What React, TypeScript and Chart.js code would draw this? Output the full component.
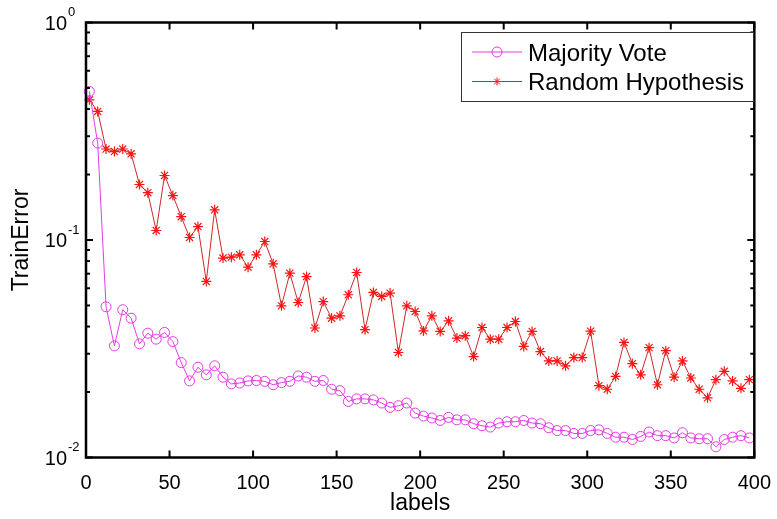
import React, { useEffect, useRef } from 'react';
import { Chart, registerables } from 'chart.js';

Chart.register(...registerables);

const FONT = '"Liberation Sans", Arial, Helvetica, sans-serif';

// x positions (labels) of the sampled points
const xLabels = [
  2, 7, 12, 17, 22, 27, 32, 37, 42, 47,
  52, 57, 62, 67, 72, 77, 82, 87, 92, 97,
  102, 107, 112, 117, 122, 127, 132, 137, 142, 147,
  152, 157, 162, 167, 172, 177, 182, 187, 192, 197,
  202, 207, 212, 217, 222, 227, 232, 237, 242, 247,
  252, 257, 262, 267, 272, 277, 282, 287, 292, 297,
  302, 307, 312, 317, 322, 327, 332, 337, 342, 347,
  352, 357, 362, 367, 372, 377, 382, 387, 392, 397,
];

const majorityVote = [
  0.482, 0.279, 0.0493, 0.0326, 0.0478, 0.0437, 0.0333, 0.0373, 0.035, 0.0376,
  0.0341, 0.0273, 0.0225, 0.026, 0.024, 0.0264, 0.0234, 0.0218, 0.022, 0.0225,
  0.0226, 0.0224, 0.0216, 0.0221, 0.0224, 0.0237, 0.0234, 0.0224, 0.0226, 0.0206,
  0.0203, 0.0181, 0.0186, 0.0186, 0.0184, 0.0178, 0.017, 0.0173, 0.0178, 0.016,
  0.0155, 0.0152, 0.0148, 0.0153, 0.0149, 0.0149, 0.0143, 0.014, 0.0138, 0.0144,
  0.0146, 0.0146, 0.0148, 0.0144, 0.0143, 0.0137, 0.0133, 0.0133, 0.0129, 0.0129,
  0.0133, 0.0134, 0.0129, 0.0124, 0.0124, 0.0121, 0.0125, 0.0131, 0.0126, 0.0126,
  0.0123, 0.013, 0.0123, 0.0122, 0.0122, 0.0112, 0.0121, 0.0124, 0.0126, 0.0123,
];

const randomHypothesis = [
  0.441, 0.39, 0.262, 0.255, 0.262, 0.249, 0.18, 0.165, 0.1106, 0.198,
  0.16, 0.128, 0.1027, 0.1153, 0.0645, 0.1377, 0.0826, 0.0834, 0.0855, 0.075,
  0.0855, 0.0984, 0.0777, 0.0498, 0.0704, 0.0516, 0.0679, 0.0394, 0.0521, 0.0437,
  0.0448, 0.056, 0.0709, 0.0387, 0.0574, 0.055, 0.057, 0.0304, 0.0498, 0.0469,
  0.0382, 0.0448, 0.038, 0.0425, 0.0354, 0.0363, 0.0291, 0.0396, 0.035, 0.035,
  0.0396, 0.0422, 0.0324, 0.038, 0.0307, 0.0278, 0.0278, 0.0264, 0.0288, 0.0288,
  0.0381, 0.0214, 0.0206, 0.0236, 0.0338, 0.027, 0.024, 0.032, 0.0216, 0.031,
  0.0234, 0.0278, 0.0232, 0.0206, 0.0188, 0.0228, 0.0249, 0.0225, 0.0208, 0.0228,
];

const seriesNames = ['Majority Vote', 'Random Hypothesis'];
const xTicks = [0, 50, 100, 150, 200, 250, 300, 350, 400];
const yDecades = [0.01, 0.1, 1];
const yDecadeLabels = [['10', '-2'], ['10', '-1'], ['10', '0']];
const yMinorMultipliers = [2, 3, 4, 5, 6, 7, 8, 9];

const MV_COLOR = 'rgb(228, 60, 228)';
const RH_LINE = 'rgb(205, 40, 40)';
const RH_MARK = 'rgb(255, 20, 20)';

function drawStar(ctx: CanvasRenderingContext2D, x: number, y: number, r: number) {
  const d = r * Math.SQRT1_2;
  ctx.beginPath();
  ctx.moveTo(x - r, y); ctx.lineTo(x + r, y);
  ctx.moveTo(x, y - r); ctx.lineTo(x, y + r);
  ctx.moveTo(x - d, y - d); ctx.lineTo(x + d, y + d);
  ctx.moveTo(x - d, y + d); ctx.lineTo(x + d, y - d);
  ctx.stroke();
}

const framePlugin = {
  id: 'matlabFrame',
  afterDraw(chart: any) {
    const { ctx, chartArea: a, scales } = chart;
    const xs = scales.x;
    const ys = scales.y;
    ctx.save();
    // frame
    ctx.strokeStyle = '#000';
    ctx.lineWidth = 2.5;
    ctx.strokeRect(a.left, a.top, a.right - a.left, a.bottom - a.top);
    ctx.lineWidth = 2;
    const seg = (x1: number, y1: number, x2: number, y2: number) => {
      ctx.beginPath(); ctx.moveTo(x1, y1); ctx.lineTo(x2, y2); ctx.stroke();
    };
    // x ticks (inward, bottom and top)
    for (const t of xTicks) {
      const px = xs.getPixelForValue(t);
      seg(px, a.bottom, px, a.bottom - 7);
      seg(px, a.top, px, a.top + 7);
    }
    // y ticks major + minor
    for (const d of yDecades) {
      const py = ys.getPixelForValue(d);
      seg(a.left, py, a.left + 7, py);
      seg(a.right, py, a.right - 7, py);
      if (d < 1) {
        for (const m of yMinorMultipliers) {
          const pm = ys.getPixelForValue(d * m);
          seg(a.left, pm, a.left + 4, pm);
          seg(a.right, pm, a.right - 4, pm);
        }
      }
    }
    // y tick labels with superscript
    ctx.fillStyle = '#000';
    yDecades.forEach((d, i) => {
      const py = ys.getPixelForValue(d);
      const [base, exp] = yDecadeLabels[i];
      ctx.font = `20px ${FONT}`;
      ctx.textAlign = 'right';
      ctx.textBaseline = 'alphabetic';
      ctx.fillText(base, a.left - 19, py + 7);
      ctx.font = `13px ${FONT}`;
      ctx.textAlign = 'left';
      ctx.fillText(exp, a.left - 18, py - 6.5);
    });
    // legend
    const bx = 461.5, by = 32.5, bw = 292, bh = 69;
    ctx.fillStyle = '#fff';
    ctx.fillRect(bx, by, bw, bh);
    ctx.strokeStyle = '#333';
    ctx.lineWidth = 1;
    ctx.strokeRect(bx, by, bw, bh);
    const rows = [52, 81.5];
    const ds = chart.data.datasets;
    ctx.strokeStyle = ds[0].borderColor;
    seg(472, rows[0], 522, rows[0]);
    ctx.beginPath(); ctx.arc(497, rows[0], 5, 0, Math.PI * 2); ctx.stroke();
    ctx.strokeStyle = ds[1].borderColor;
    seg(472, rows[1], 522, rows[1]);
    ctx.strokeStyle = ds[1].pointBorderColor;
    drawStar(ctx, 497, rows[1], 4);
    ctx.fillStyle = '#000';
    ctx.font = `24px ${FONT}`;
    ctx.textAlign = 'left';
    ctx.textBaseline = 'alphabetic';
    ctx.fillText(seriesNames[0], 528, rows[0] + 8.5);
    ctx.fillText(seriesNames[1], 528, rows[1] + 8.5);
    ctx.restore();
  },
};

export default function App() {
  const ref = useRef<HTMLCanvasElement | null>(null);
  useEffect(() => {
    document.body.style.margin = '0';
    const canvas = ref.current;
    if (!canvas) return;
    const chart = new Chart(canvas, {
      type: 'line',
      data: {
        datasets: [
          {
            label: seriesNames[0],
            data: xLabels.map((x, i) => ({ x, y: majorityVote[i] })),
            borderColor: MV_COLOR,
            borderWidth: 1,
            pointStyle: 'circle',
            pointRadius: 5,
            pointBorderWidth: 1,
            pointBorderColor: MV_COLOR,
            pointBackgroundColor: 'rgba(0,0,0,0)',
            fill: false,
            tension: 0,
            clip: 10,
          },
          {
            label: seriesNames[1],
            data: xLabels.map((x, i) => ({ x, y: randomHypothesis[i] })),
            borderColor: RH_LINE,
            borderWidth: 1,
            pointStyle: 'star',
            pointRadius: 5,
            pointBorderWidth: 1.2,
            pointBorderColor: RH_MARK,
            pointBackgroundColor: RH_MARK,
            fill: false,
            tension: 0,
            clip: 10,
          },
        ],
      },
      options: {
        responsive: false,
        animation: false,
        devicePixelRatio: 1,
        layout: { padding: { top: 22.5, right: 17, bottom: 0, left: 0 } },
        plugins: {
          legend: { display: false },
          tooltip: { enabled: false },
        },
        scales: {
          x: {
            type: 'linear',
            min: 0,
            max: 400,
            grid: { display: false },
            border: { display: false },
            ticks: {
              stepSize: 50,
              color: '#000',
              font: { family: FONT, size: 20 },
              padding: 6,
              maxRotation: 0,
            },
            title: {
              display: true,
              text: 'labels',
              color: '#000',
              font: { family: FONT, size: 23 },
              padding: { top: 0, bottom: 2 },
            },
            afterFit: (s: any) => { s.height = 61.5; },
          },
          y: {
            type: 'logarithmic',
            min: 0.01,
            max: 1,
            grid: { display: false },
            border: { display: false },
            ticks: { display: false },
            title: {
              display: true,
              text: 'TrainError',
              color: '#000',
              font: { family: FONT, size: 23 },
              padding: { top: 8, bottom: 0 },
            },
            afterFit: (s: any) => { s.width = 86; },
          },
        },
      },
      plugins: [framePlugin],
    } as any);
    return () => chart.destroy();
  }, []);
  return <canvas ref={ref} width={777} height={519} style={{ display: 'block' }} />;
}
